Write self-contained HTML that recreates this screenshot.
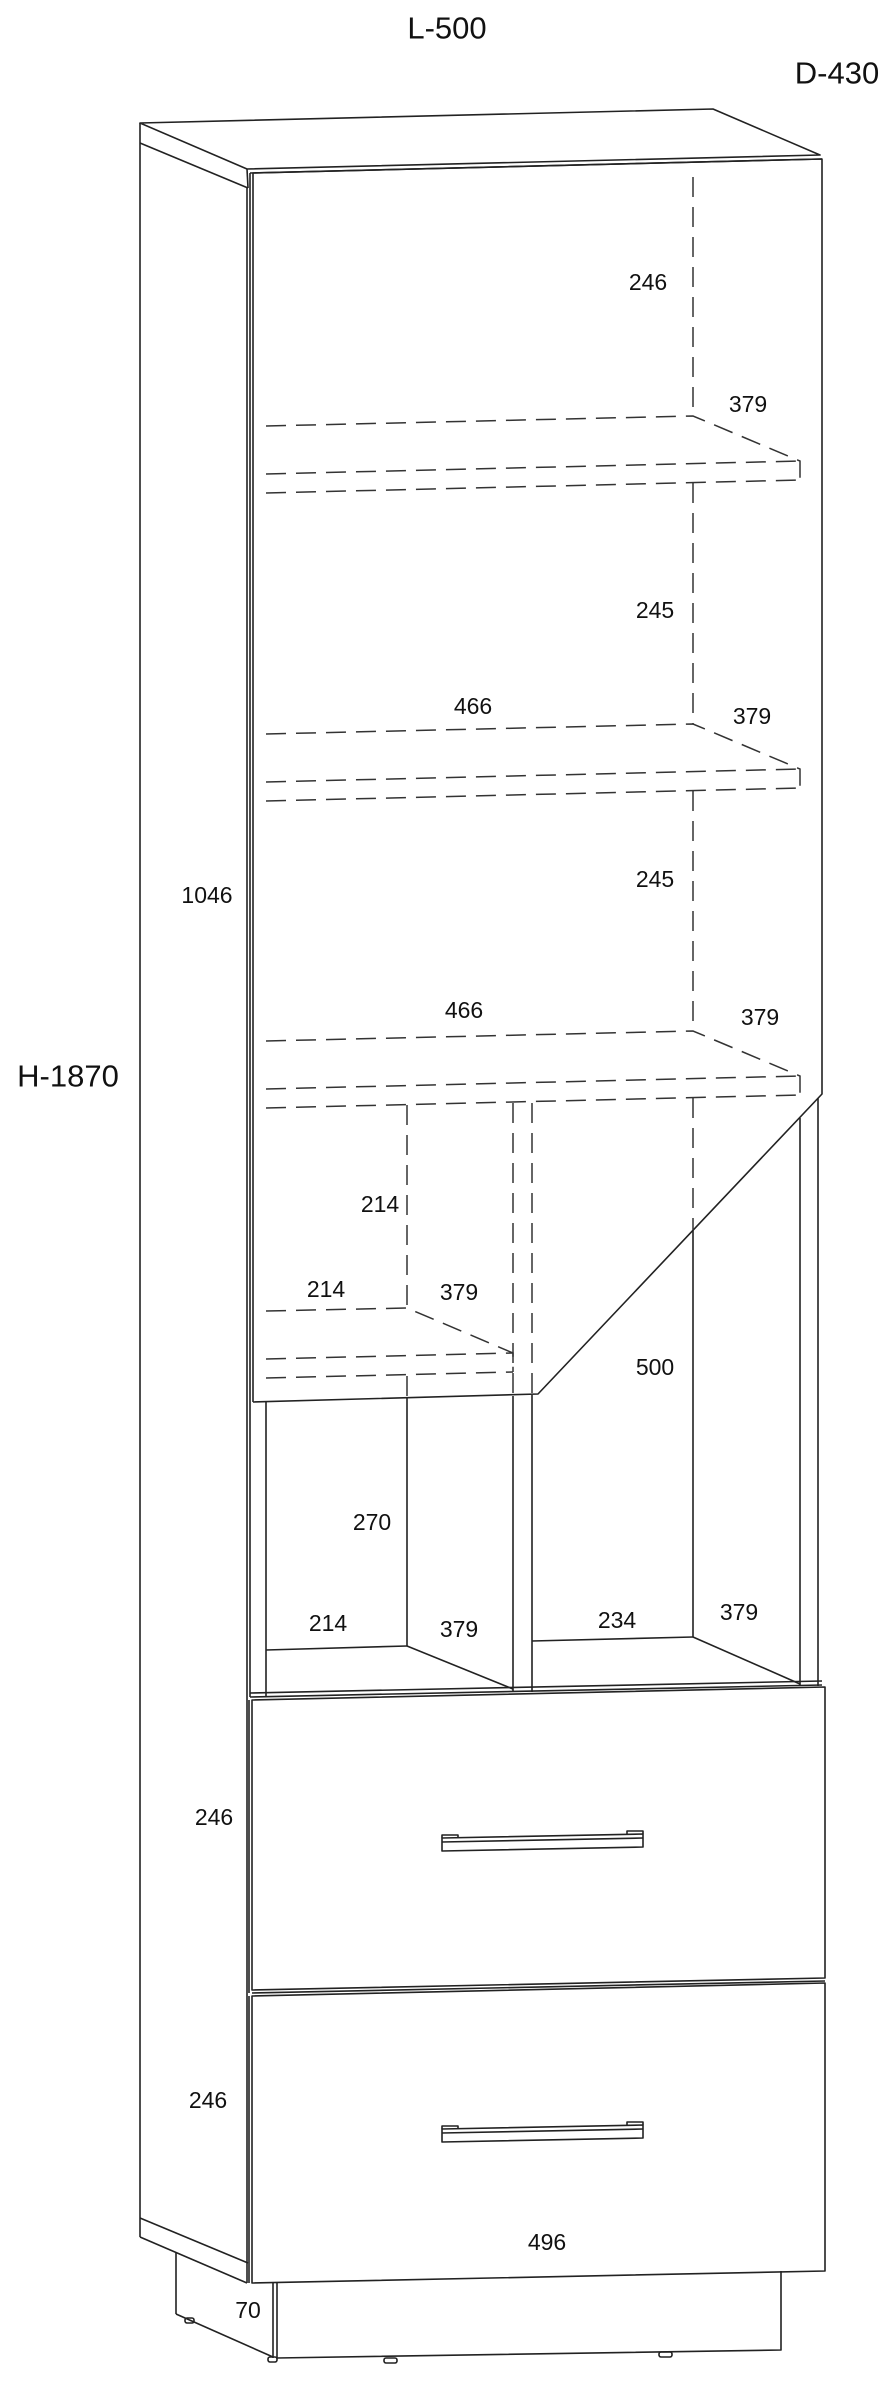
<!DOCTYPE html>
<html><head><meta charset="utf-8"><style>
html,body{margin:0;padding:0;background:#fff}
svg{display:block}
text{font-family:"Liberation Sans",Arial,sans-serif;fill:#111;text-anchor:middle;dominant-baseline:central}
</style></head><body>
<svg width="896" height="2387" viewBox="0 0 896 2387" xmlns="http://www.w3.org/2000/svg">
<g fill="none" stroke="#222" stroke-width="1.6" stroke-linejoin="round">
<polygon points="140,123 713,109 820,155 247,169" fill="#fff"/>
<line x1="250" y1="173" x2="822" y2="159"/>
<line x1="140" y1="123" x2="140" y2="143"/>
<line x1="140" y1="143" x2="248" y2="188"/>
<line x1="247" y1="169" x2="248" y2="188"/>
<line x1="140" y1="143" x2="140" y2="2218"/>
<line x1="140" y1="2218" x2="248" y2="2263"/>
<line x1="140" y1="2237" x2="247" y2="2283"/>
<line x1="140" y1="2218" x2="140" y2="2237"/>
<line x1="247" y1="188" x2="247" y2="2283"/>
<polyline points="253,1402 253,173 822,159 822,1094 538,1394 253,1402"/>
<line x1="250" y1="173" x2="250" y2="1402"/>
<line x1="818" y1="1098" x2="818" y2="1686"/>
<line x1="800" y1="1118" x2="800" y2="1686"/>
<line x1="250" y1="1402" x2="250" y2="1697"/>
<line x1="266" y1="1402" x2="266" y2="1697"/>
<line x1="407" y1="1398" x2="407" y2="1646"/>
<line x1="266" y1="1650" x2="407" y2="1646"/>
<line x1="407" y1="1646" x2="513" y2="1689"/>
<line x1="513" y1="1396" x2="513" y2="1692"/>
<line x1="532" y1="1395" x2="532" y2="1692"/>
<line x1="532" y1="1641" x2="693" y2="1637"/>
<line x1="693" y1="1637" x2="800" y2="1684"/>
<line x1="693" y1="1230" x2="693" y2="1637"/>
<line x1="250" y1="1693" x2="822" y2="1681"/>
<line x1="250" y1="1697" x2="822" y2="1685"/>
<polygon points="252,1700 825,1687 825,1978 252,1990" fill="#fff"/>
<line x1="249" y1="1700" x2="249" y2="1993"/>
<polygon points="252,1996 825,1983 825,2271 252,2283" fill="#fff"/>
<line x1="249" y1="1996" x2="249" y2="2283"/>
<line x1="252" y1="1993" x2="825" y2="1981"/>
<polygon points="442,1838 643,1834 643,1847 442,1851" fill="#fff"/>
<line x1="442" y1="1842" x2="643" y2="1838"/>
<polyline points="442,1838 442,1835 458,1835 458,1838"/>
<polyline points="627,1834 627,1831 643,1831 643,1834"/>
<polygon points="442,2129 643,2125 643,2138 442,2142" fill="#fff"/>
<line x1="442" y1="2133" x2="643" y2="2129"/>
<polyline points="442,2129 442,2126 458,2126 458,2129"/>
<polyline points="627,2125 627,2122 643,2122 643,2125"/>
<line x1="176" y1="2253" x2="176" y2="2314"/>
<line x1="176" y1="2314" x2="273" y2="2357"/>
<line x1="273" y1="2283" x2="273" y2="2358"/>
<line x1="277" y1="2283" x2="277" y2="2358"/>
<polyline points="277,2358 781,2350 781,2271"/>
<rect x="185" y="2318" width="9" height="5" rx="2"/>
<rect x="268" y="2357" width="9" height="5" rx="2"/>
<rect x="384" y="2358" width="13" height="5" rx="2"/>
<rect x="659" y="2352" width="13" height="5" rx="2"/>
</g>
<g fill="none" stroke="#333" stroke-width="1.5" stroke-dasharray="20,10">
<line x1="693" y1="177" x2="693" y2="416"/>
<line x1="693" y1="483" x2="693" y2="724"/>
<line x1="693" y1="791" x2="693" y2="1031"/>
<line x1="693" y1="1098" x2="693" y2="1230"/>
<polyline points="266,426 693,416 800,461 800,480"/>
<line x1="266" y1="474" x2="800" y2="461"/>
<line x1="266" y1="493" x2="800" y2="480"/>
<polyline points="266,734 693,724 800,769 800,788"/>
<line x1="266" y1="782" x2="800" y2="769"/>
<line x1="266" y1="801" x2="800" y2="788"/>
<polyline points="266,1041 693,1031 800,1076 800,1095"/>
<line x1="266" y1="1089" x2="800" y2="1076"/>
<line x1="266" y1="1108" x2="800" y2="1095"/>
<line x1="407" y1="1105" x2="407" y2="1308"/>
<line x1="407" y1="1376" x2="407" y2="1398"/>
<line x1="513" y1="1103" x2="513" y2="1396"/>
<line x1="532" y1="1103" x2="532" y2="1395"/>
<polyline points="266,1311 407,1308 513,1353 513,1372"/>
<line x1="266" y1="1359" x2="513" y2="1353"/>
<line x1="266" y1="1378" x2="513" y2="1372"/>
</g>
<g font-size="31">
<text x="447" y="28">L-500</text>
<text x="837" y="73">D-430</text>
<text x="68" y="1076">H-1870</text>
</g>
<g font-size="23">
<text x="207" y="895">1046</text>
<text x="648" y="282">246</text>
<text x="748" y="404">379</text>
<text x="655" y="610">245</text>
<text x="473" y="706">466</text>
<text x="752" y="716">379</text>
<text x="655" y="879">245</text>
<text x="464" y="1010">466</text>
<text x="760" y="1017">379</text>
<text x="380" y="1204">214</text>
<text x="326" y="1289">214</text>
<text x="459" y="1292">379</text>
<text x="655" y="1367">500</text>
<text x="372" y="1522">270</text>
<text x="328" y="1623">214</text>
<text x="459" y="1629">379</text>
<text x="617" y="1620">234</text>
<text x="739" y="1612">379</text>
<text x="214" y="1817">246</text>
<text x="208" y="2100">246</text>
<text x="547" y="2242">496</text>
<text x="248" y="2310">70</text>
</g>
</svg>
</body></html>
